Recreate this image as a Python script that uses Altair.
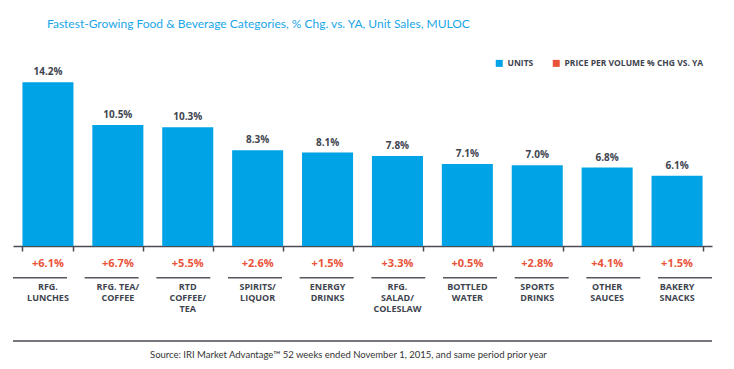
import altair as alt
import pandas as pd

categories = ["RFG.|LUNCHES", "RFG. TEA/|COFFEE", "RTD|COFFEE/|TEA", "SPIRITS/|LIQUOR",
              "ENERGY|DRINKS", "RFG.|SALAD/|COLESLAW", "BOTTLED|WATER", "SPORTS|DRINKS",
              "OTHER|SAUCES", "BAKERY|SNACKS"]
units = [14.2, 10.5, 10.3, 8.3, 8.1, 7.8, 7.1, 7.0, 6.8, 6.1]
price = [6.1, 6.7, 5.5, 2.6, 1.5, 3.3, 0.5, 2.8, 4.1, 1.5]
series = ["UNITS", "PRICE PER VOLUME % CHG VS. YA"]
title_text = "Fastest-Growing Food & Beverage Categories, % Chg. vs. YA, Unit Sales, MULOC"
source_text = "Source:  IRI Market Advantage\u2122 52 weeks ended November 1, 2015, and same period prior year"

BLUE = "#00a3e6"
RED = "#e9533a"
DARK = "#40444f"
AXIS = "#4a4b55"

df = pd.DataFrame({
    "cat": categories,
    "units": units,
    "price": price,
    "ulabel": [f"{v:.1f}%" for v in units],
    "plabel": [f"+{v:.1f}%" for v in price],
})

W, H = 699, 173
color_scale = alt.Scale(domain=series, range=[BLUE, RED])
legend = alt.Legend(title=None, orient="none", legendX=482, legendY=-14, direction="horizontal",
                    symbolType="square", symbolSize=49, symbolStrokeWidth=0, labelFont="Open Sans",
                    labelFontWeight="bold", labelFontSize=8.5, labelColor=DARK, labelOffset=4,
                    columnPadding=18, padding=0)

scaleA = alt.Scale(paddingInner=0.27, paddingOuter=0.135)
scaleB = alt.Scale(paddingInner=0.247, paddingOuter=0)

base = alt.Chart(df)

bars = base.transform_calculate(series="'UNITS'").mark_bar(color=BLUE).encode(
    x=alt.X("cat:N", sort=categories, scale=scaleA,
            axis=alt.Axis(title=None, labels=False, tickBand="extent", tickSize=5, tickWidth=1.5,
                          domainWidth=1.5, tickColor=AXIS, domainColor=AXIS, grid=False)),
    y=alt.Y("units:Q", scale=alt.Scale(domain=[0, 15], nice=False), axis=None),
    color=alt.Color("series:N", scale=color_scale, legend=legend),
)

vlabels = base.mark_text(font="Open Sans", fontWeight="bold", fontSize=10, color=DARK,
                         baseline="bottom", dy=-5).encode(
    x=alt.X("cat:N", sort=categories, scale=scaleA, axis=None),
    y=alt.Y("units:Q", scale=alt.Scale(domain=[0, 15], nice=False), axis=None),
    text="ulabel:N",
)

plabels = base.transform_calculate(series="'PRICE PER VOLUME % CHG VS. YA'").mark_text(
    font="Open Sans", fontWeight="bold", fontSize=11, baseline="middle").encode(
    x=alt.X("cat:N", sort=categories, scale=scaleB, axis=None),
    y=alt.value(H + 18),
    text="plabel:N",
    color=alt.Color("series:N", scale=color_scale, legend=legend),
)

seps = base.mark_bar(color="#55565e").encode(
    x=alt.X("cat:N", sort=categories, scale=scaleB, axis=None),
    y=alt.value(H + 31),
    y2=alt.value(H + 32.5),
)

catlabels = base.mark_text(font="Open Sans", fontWeight="bold", fontSize=9, color=DARK,
                           baseline="middle", lineBreak="|", lineHeight=11).encode(
    x=alt.X("cat:N", sort=categories, scale=scaleB, axis=None),
    y=alt.value(H + 41),
    text="cat:N",
)

title = alt.Chart(pd.DataFrame({"t": [title_text]})).mark_text(
    font="Lato", fontSize=12, color="#19a6e8", align="left", baseline="middle").encode(
    x=alt.value(34), y=alt.value(-49), text="t:N")

src_rule = alt.Chart(pd.DataFrame({"a": [0]})).mark_rule(color=AXIS, strokeWidth=1.5).encode(
    x=alt.value(0), x2=alt.value(W), y=alt.value(268))

source = alt.Chart(pd.DataFrame({"t": [source_text]})).mark_text(
    font="Lato", fontSize=9.5, color="#333333", align="left", baseline="middle").encode(
    x=alt.value(137), y=alt.value(282), text="t:N")

chart = alt.layer(bars, vlabels, plabels, seps, catlabels, title, src_rule, source).resolve_scale(
    x="independent"
).properties(
    width=W, height=H,
    background="white",
    padding={"left": 5, "top": 65, "right": 14, "bottom": 115},
    autosize=alt.AutoSizeParams(type="none"),
).configure_view(strokeWidth=0, stroke="transparent")

chart.save("out.html", embed_options={"renderer": "svg", "actions": False})
